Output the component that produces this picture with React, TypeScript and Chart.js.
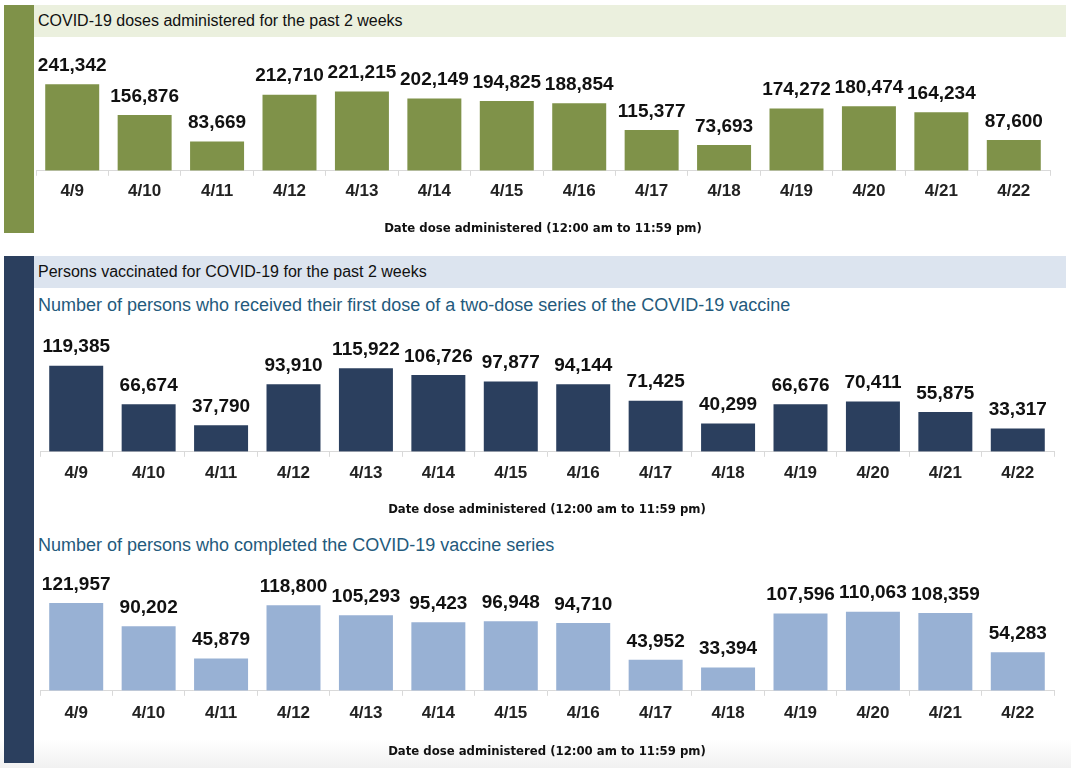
import React, { useEffect, useRef } from 'react';
import { Chart, registerables } from 'chart.js';

Chart.register(...registerables);

const dates = ['4/9', '4/10', '4/11', '4/12', '4/13', '4/14', '4/15', '4/16', '4/17', '4/18', '4/19', '4/20', '4/21', '4/22'];
const dosesAdministered = [241342, 156876, 83669, 212710, 221215, 202149, 194825, 188854, 115377, 73693, 174272, 180474, 164234, 87600];
const firstDose = [119385, 66674, 37790, 93910, 115922, 106726, 97877, 94144, 71425, 40299, 66676, 70411, 55875, 33317];
const completedSeries = [121957, 90202, 45879, 118800, 105293, 95423, 96948, 94710, 43952, 33394, 107596, 110063, 108359, 54283];

const axisTitle = 'Date dose administered (12:00 am to 11:59 pm)';
const header1 = 'COVID-19 doses administered for the past 2 weeks';
const header2 = 'Persons vaccinated for COVID-19 for the past 2 weeks';
const subtitle1 = 'Number of persons who received their first dose of a two-dose series of the COVID-19 vaccine';
const subtitle2 = 'Number of persons who completed the COVID-19 vaccine series';

const GREEN = '#7f9249';
const NAVY = '#2b3f5e';
const LIGHTBLUE = '#98b1d4';
const SANS = '"Liberation Sans", Arial, sans-serif';
const NARROW = '"DejaVu Sans Condensed", "Liberation Sans Narrow", sans-serif';

const fmt = (v: number) => String(v).replace(/\B(?=(\d{3})+(?!\d))/g, ',');

const valueLabels = {
  id: 'valueLabels',
  afterDatasetsDraw(chart: any) {
    const ctx = chart.ctx;
    const meta = chart.getDatasetMeta(0);
    const vals = chart.data.datasets[0].data as number[];
    ctx.save();
    ctx.font = `bold 19px ${SANS}`;
    ctx.fillStyle = '#111111';
    ctx.textAlign = 'center';
    ctx.textBaseline = 'middle';
    meta.data.forEach((bar: any, i: number) => {
      ctx.fillText(fmt(vals[i]), bar.x, bar.y - 17.5);
    });
    ctx.restore();
  },
};

type PanelProps = {
  values: number[];
  color: string;
  yMax: number;
  left: number;
  top: number;
  width: number;
  height: number;
  pad: { left: number; right: number; top: number };
  tickPad: number;
  titlePadTop: number;
  titlePadBottom: number;
};

function BarPanel(p: PanelProps) {
  const ref = useRef<HTMLCanvasElement>(null);
  useEffect(() => {
    if (!ref.current) return;
    const chart = new Chart(ref.current, {
      type: 'bar',
      data: {
        labels: dates,
        datasets: [
          {
            data: p.values,
            backgroundColor: p.color,
            borderColor: 'rgba(255,255,255,0.35)',
            borderWidth: 1,
            barPercentage: 0.773,
            categoryPercentage: 1,
          },
        ],
      },
      options: {
        responsive: false,
        animation: false,
        layout: { padding: { left: p.pad.left, right: p.pad.right, top: p.pad.top, bottom: 0 } },
        plugins: { legend: { display: false }, tooltip: { enabled: false }, title: { display: false } },
        scales: {
          x: {
            grid: { display: true, drawOnChartArea: false, drawTicks: true, tickLength: 5, color: '#d9d9d9', offset: true },
            border: { display: true, color: '#d9d9d9', width: 1 },
            ticks: {
              autoSkip: false,
              maxRotation: 0,
              minRotation: 0,
              padding: p.tickPad,
              color: '#222222',
              font: { family: SANS, size: 17, weight: 'bold', lineHeight: 1.2 },
            },
            title: {
              display: true,
              text: axisTitle,
              color: '#111111',
              font: { family: NARROW, size: 13, weight: 'bold', lineHeight: 1.2 },
              padding: { top: p.titlePadTop, bottom: p.titlePadBottom },
            },
          },
          y: { display: false, min: 0, max: p.yMax },
        },
      },
      plugins: [valueLabels],
    });
    return () => chart.destroy();
  }, []);
  return (
    <canvas
      ref={ref}
      width={p.width}
      height={p.height}
      style={{ position: 'absolute', left: p.left, top: p.top, width: p.width, height: p.height }}
    />
  );
}

export default function App() {
  return (
    <div
      style={{
        position: 'fixed',
        left: 0,
        top: 0,
        width: 1071,
        height: 768,
        background: '#ffffff',
        overflow: 'hidden',
        fontFamily: SANS,
      }}
    >
      {/* Panel 1 */}
      <div style={{ position: 'absolute', left: 4, top: 5, width: 30, height: 228, background: GREEN }} />
      <div style={{ position: 'absolute', left: 34, top: 5, width: 1032, height: 32, background: '#ebf0de' }} />
      <div style={{ position: 'absolute', left: 38, top: 11, fontSize: 16, color: '#111', whiteSpace: 'nowrap', lineHeight: '19px' }}>
        {header1}
      </div>
      <BarPanel
        values={dosesAdministered}
        color={GREEN}
        yMax={333000}
        left={34}
        top={37}
        width={1032}
        height={208}
        pad={{ left: 2, right: 16, top: 13 }}
        tickPad={5.8}
        titlePadTop={12.8}
        titlePadBottom={8.8}
      />

      {/* Panel 2 */}
      <div style={{ position: 'absolute', left: 0, top: 740, width: 1071, height: 28, background: 'linear-gradient(#ffffff, #f1f1f1)' }} />
      <div style={{ position: 'absolute', left: 4, top: 256, width: 30, height: 507, background: NAVY }} />
      <div style={{ position: 'absolute', left: 34, top: 256, width: 1032, height: 32, background: '#dce4ef' }} />
      <div style={{ position: 'absolute', left: 38, top: 262, fontSize: 16, color: '#111', whiteSpace: 'nowrap', lineHeight: '19px' }}>
        {header2}
      </div>
      <div style={{ position: 'absolute', left: 38, top: 295, fontSize: 18, color: '#245a7c', whiteSpace: 'nowrap', lineHeight: '21px' }}>
        {subtitle1}
      </div>
      <BarPanel
        values={firstDose}
        color={NAVY}
        yMax={167000}
        left={34}
        top={318}
        width={1032}
        height={207}
        pad={{ left: 6, right: 12, top: 12 }}
        tickPad={6.8}
        titlePadTop={11.5}
        titlePadBottom={7.1}
      />
      <div style={{ position: 'absolute', left: 38, top: 535, fontSize: 18, color: '#245a7c', whiteSpace: 'nowrap', lineHeight: '21px' }}>
        {subtitle2}
      </div>
      <BarPanel
        values={completedSeries}
        color={LIGHTBLUE}
        yMax={166000}
        left={34}
        top={556}
        width={1032}
        height={212}
        pad={{ left: 6, right: 12, top: 14 }}
        tickPad={7.8}
        titlePadTop={11.8}
        titlePadBottom={8.8}
      />
    </div>
  );
}
